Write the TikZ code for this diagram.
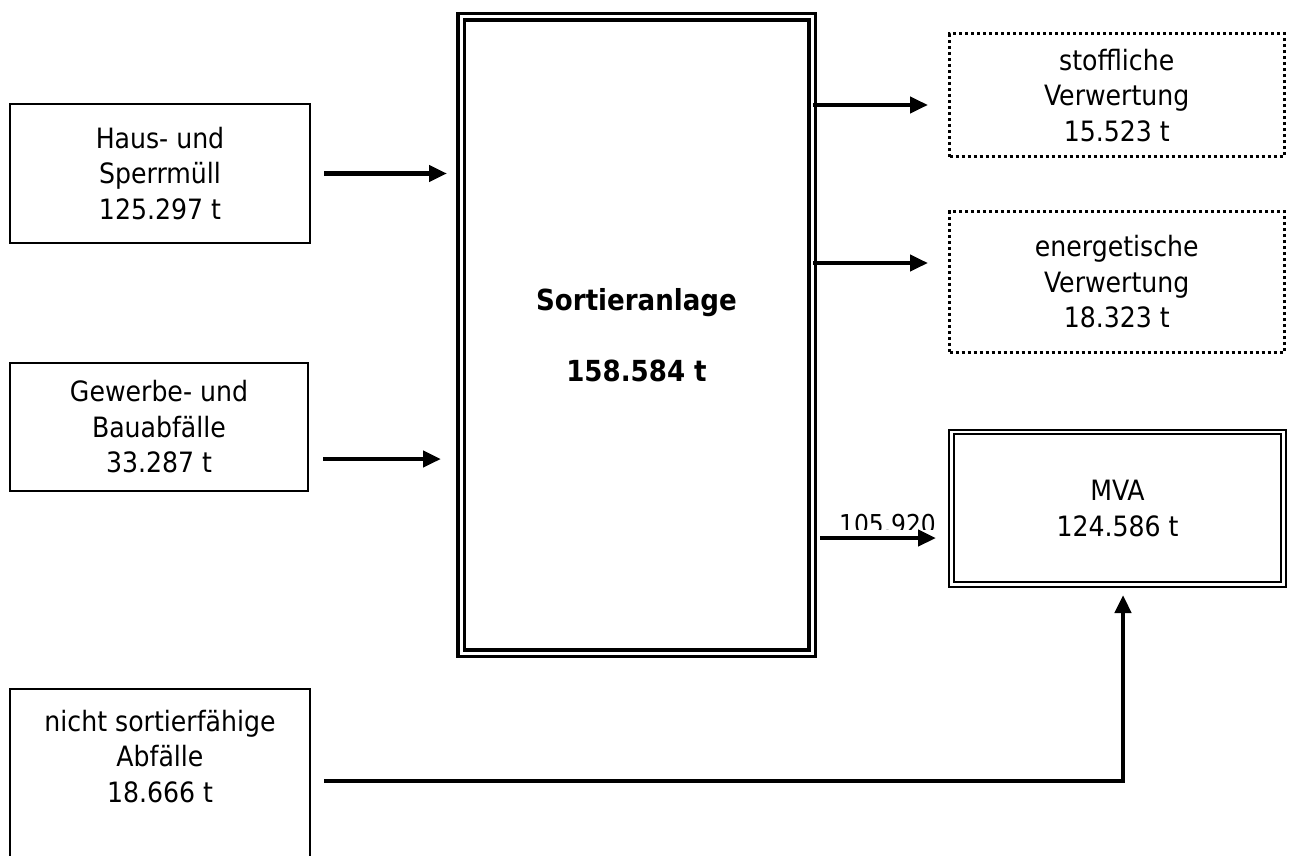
\documentclass[tikz,border=0pt]{standalone}
\usepackage{fontspec}
\setmainfont{DejaVu Sans Condensed}
\usetikzlibrary{arrows.meta,positioning}

\tikzset{
  box/.style={draw, line width=2.2pt, minimum width=300pt, align=center, inner sep=0pt, outer sep=0pt},
  dotbox/.style={draw, line width=3pt, dash pattern=on 3pt off 3pt, minimum width=334.5pt, align=center, inner sep=0pt, outer sep=0pt},
  dblbox/.style={draw, double, double distance=3pt, line width=3.5pt, align=center, inner sep=0pt, outer sep=0pt},
  flow/.style={line width=4.5pt, -{Triangle[length=18pt,width=16pt]}},
}

\begin{document}
\begin{tikzpicture}[x=1pt, y=-1pt, font=\fontsize{28}{35.5}\selectfont]
  \useasboundingbox (0,0) rectangle (1291,856);

  % Abfallarten links
  \node[box, minimum height=139pt] (haus) at (160,173.5) {Haus- und\\Sperrmüll\\125.297 t};
  \node[box, minimum width=298pt, minimum height=128pt] (gew) at (159,427) {Gewerbe- und\\Bauabfälle\\33.287 t};
  \node[box, minimum height=184pt] (nicht) at (160,781) {};
  \node[inner sep=0pt, align=center, anchor=north] (nichttxt) at ([yshift=-21pt]nicht.north) {nicht sortierfähige\\Abfälle\\18.666 t};

  % Sortieranlage
  \node[dblbox, minimum width=351pt, minimum height=636pt, font=\fontsize{29}{35.5}\selectfont\bfseries] (sort) at (636.5,335) {Sortieranlage\\[36pt]158.584 t};

  % Verwertung rechts
  \node[dotbox, minimum height=123pt] (stoff) at (1116.75,95.5) {stoffliche\\Verwertung\\15.523 t};
  \node[dotbox, minimum height=141.5pt] (energ) at (1116.75,282) {energetische\\Verwertung\\18.323 t};
  \node[dblbox, line width=2.3pt, double distance=2.3pt, minimum width=332pt, minimum height=152.5pt] (mva) at (1117.5,508.25) {MVA\\124.586 t};

  % Pfeile
  \coordinate (s1) at ([yshift=-9.5pt]stoff.west);
  \coordinate (s2) at ([yshift=19pt]energ.west);
  \coordinate (s3) at ([yshift=-29.75pt]mva.west);
  \coordinate (g1) at ([yshift=-32pt]gew.east);
  \draw[flow, shorten <=14pt, shorten >=14pt] (haus.east) -- (haus.east -| sort.west);
  \draw[flow, shorten <=15pt, shorten >=20pt] (g1) -- (g1 -| sort.west);
  \draw[flow, shorten <=1pt, shorten >=21.5pt] (s1 -| sort.east) -- (s1);
  \draw[flow, shorten <=1pt, shorten >=21.5pt] (s2 -| sort.east) -- (s2);
  \draw[flow, shorten <=8pt, shorten >=15.5pt] (s3 -| sort.east) -- (s3);
  \draw[flow, shorten <=14pt, shorten >=10.5pt] (nicht.east) -| ([xshift=5.5pt]mva.south);

  % Menge am Pfeil (unten abgeschnitten)
  \begin{scope}
    \clip (830,500) rectangle (945,529);
    \node[anchor=base, inner sep=0pt, font=\fontsize{26}{32}\selectfont] (menge) at (887.5,533) {105.920};
  \end{scope}
\end{tikzpicture}
\end{document}
